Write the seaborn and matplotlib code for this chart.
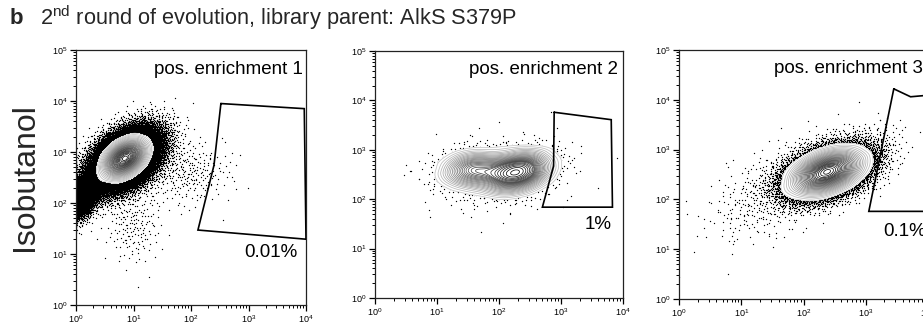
import numpy as np
import pandas as pd
import seaborn as sns
import matplotlib.pyplot as plt
from matplotlib.colors import LinearSegmentedColormap
from matplotlib.ticker import LogLocator, FuncFormatter, NullFormatter

# ---------------------------------------------------------------- data --
panel_titles = ["pos. enrichment 1", "pos. enrichment 2", "pos. enrichment 3"]
gate_labels = ["0.01%", "1%", "0.1%"]
event_totals = [90000, 2600, 20000]
# share of events left outside the outermost contour (shown as dots)
outlier_share = [0.20, 0.10, 0.12]

# sub-populations in log10 units: centre, spread, correlation, share
pos1_cx = [0.85, 0.85, 0.10, 1.90, 1.00]
pos1_cy = [2.88, 2.85, 2.15, 2.60, 1.60]
pos1_sx = [0.21, 0.31, 0.15, 0.40, 0.25]
pos1_sy = [0.21, 0.31, 0.22, 0.30, 0.40]
pos1_rho = [0.35, 0.45, 0.40, 0.00, 0.00]
pos1_share = [0.70, 0.235, 0.06, 0.003, 0.002]

pos2_cx = [1.55, 2.30, 1.90]
pos2_cy = [2.60, 2.55, 2.50]
pos2_sx = [0.28, 0.31, 0.70]
pos2_sy = [0.22, 0.25, 0.45]
pos2_rho = [0.15, 0.30, 0.20]
pos2_share = [0.33, 0.62, 0.05]

pos3_cx = [2.38, 1.60, 3.05]
pos3_cy = [2.55, 2.20, 3.00]
pos3_sx = [0.33, 0.55, 0.30]
pos3_sy = [0.26, 0.50, 0.30]
pos3_rho = [0.40, 0.55, 0.30]
pos3_share = [0.967, 0.025, 0.008]

# sort gates (vertices, linear units)
gate1_x = [331, 9330, 10000, 132, 251]
gate1_y = [8910, 7080, 19.5, 29.5, 550]
gate2_x = [776, 6460, 6760, 501, 759]
gate2_y = [5750, 4070, 69, 69, 468]
gate3_x = [2820, 5250, 12000, 12000, 1120]
gate3_y = [16600, 11500, 12600, 57.5, 57.5]

populations = [
    (pos1_cx, pos1_cy, pos1_sx, pos1_sy, pos1_rho, pos1_share),
    (pos2_cx, pos2_cy, pos2_sx, pos2_sy, pos2_rho, pos2_share),
    (pos3_cx, pos3_cy, pos3_sx, pos3_sy, pos3_rho, pos3_share),
]
gates = [(gate1_x, gate1_y), (gate2_x, gate2_y), (gate3_x, gate3_y)]


# ------------------------------------------------------------- helpers --
def halton(idx, base):
    """Radical inverse of integer indices (low-discrepancy sequence)."""
    i = np.asarray(idx, dtype=np.int64).copy()
    out = np.zeros(i.shape, dtype=float)
    f = 1.0 / base
    while np.any(i > 0):
        out += f * (i % base)
        i //= base
        f /= base
    return out


def build_events(cx, cy, sx, sy, rho, share, total):
    counts = np.maximum(np.round(np.asarray(share) * total).astype(int), 1)
    xs, ys = [], []
    start = 1
    for k in range(len(cx)):
        idx = np.arange(start, start + counts[k])
        start += counts[k]
        u1, u2 = halton(idx, 2), halton(idx, 3)
        r = np.sqrt(-2.0 * np.log(u1))
        z1, z2 = r * np.cos(2 * np.pi * u2), r * np.sin(2 * np.pi * u2)
        xs.append(cx[k] + sx[k] * z1)
        ys.append(cy[k] + sy[k] * (rho[k] * z1 + np.sqrt(1 - rho[k] ** 2) * z2))
    lx = np.clip(np.concatenate(xs), 0.004, 4.3)
    ly = np.clip(np.concatenate(ys), 0.004, 5.0)
    return pd.DataFrame({"gfp": 10 ** lx, "isobutanol": 10 ** ly})


def decade_label(v, _):
    return r"$10^{%d}$" % int(round(np.log10(v)))


# --------------------------------------------------------------- style --
sns.set_theme(style="ticks")
plt.rcParams["font.family"] = ["Liberation Sans", "DejaVu Sans"]
plt.rcParams["mathtext.fontset"] = "custom"
plt.rcParams["mathtext.rm"] = "Liberation Sans"
plt.rcParams["mathtext.it"] = "Liberation Sans:italic"
plt.rcParams["mathtext.bf"] = "Liberation Sans:bold"

W, H = 923, 327
fig = plt.figure(figsize=(W / 100, H / 100), dpi=100)
fig.patch.set_facecolor("white")

# axes boxes in pixels: left, right, top, bottom
boxes = [(76, 306, 50, 305), (375, 623, 51, 298), (679, 928, 50, 299)]
title_pos = [(0.985, 0.925), (0.98, 0.925), (0.98, 0.925)]
label_pos = [(0.965, 0.205, "right"), (0.956, 0.296, "right"), (0.82, 0.27, "left")]

contour_cmap = LinearSegmentedColormap.from_list("flow", ["#c4c4c4", "#0a0a0a"])
blank_cmap = LinearSegmentedColormap.from_list("blank", ["white", "white"])

for p in range(3):
    l, r, t, b = boxes[p]
    ax = fig.add_axes([l / W, 1 - b / H, (r - l) / W, (b - t) / H])
    ax.set_xscale("log")
    ax.set_yscale("log")

    ev = build_events(*populations[p], event_totals[p])
    kde_ev = build_events(*populations[p], min(event_totals[p], 3000))
    lowest = outlier_share[p]
    line_levels = np.linspace(lowest, 0.985, 28)

    sns.scatterplot(data=ev, x="gfp", y="isobutanol", s=0.9, color="black",
                    linewidth=0, ax=ax, legend=False, rasterized=True)
    sns.kdeplot(data=kde_ev, x="gfp", y="isobutanol", fill=True,
                levels=[lowest, 1.0], cmap=blank_cmap, log_scale=True,
                gridsize=140, ax=ax)
    sns.kdeplot(data=kde_ev, x="gfp", y="isobutanol", levels=line_levels,
                cmap=contour_cmap, linewidths=0.55, log_scale=True,
                gridsize=140, ax=ax)

    gx, gy = gates[p]
    ax.plot(list(gx) + [gx[0]], list(gy) + [gy[0]], color="black", lw=1.2,
            solid_joinstyle="miter", zorder=5)

    ax.set_xlim(1, 1e4)
    ax.set_ylim(1, 1e5)
    ax.set_xlabel("")
    ax.set_ylabel("")

    for axis in (ax.xaxis, ax.yaxis):
        axis.set_major_locator(LogLocator(base=10, numticks=12))
        axis.set_minor_locator(LogLocator(base=10, subs=np.arange(2, 10), numticks=12))
        axis.set_major_formatter(FuncFormatter(decade_label))
        axis.set_minor_formatter(NullFormatter())
    ax.tick_params(which="major", direction="out", length=4, width=0.9,
                   labelsize=6.5, pad=2, colors="black")
    ax.tick_params(which="minor", direction="out", length=2, width=0.7,
                   colors="black")
    for s in ax.spines.values():
        s.set_visible(True)
        s.set_linewidth(0.9)
        s.set_color("#222222")

    tx, ty = title_pos[p]
    ax.text(tx, ty, panel_titles[p], transform=ax.transAxes, ha="right",
            va="center", fontsize=13.5, color="black")
    lx, ly, ha = label_pos[p]
    ax.text(lx, ly, gate_labels[p], transform=ax.transAxes, ha=ha,
            va="center", fontsize=13.5, color="black", zorder=6)

fig.text(25 / W, 1 - 177 / H, "Isobutanol", rotation=90, ha="center",
         va="center", fontsize=23)
fig.text(10 / W, 1 - 18 / H, "b", fontsize=16, fontweight="bold",
         ha="left", va="center")
fig.text(40 / W, 1 - 18 / H,
         r"2$^{\mathrm{nd}}$ round of evolution, library parent: AlkS S379P",
         fontsize=15.7, ha="left", va="center")

fig.savefig("out.png", dpi=100, facecolor="white")
